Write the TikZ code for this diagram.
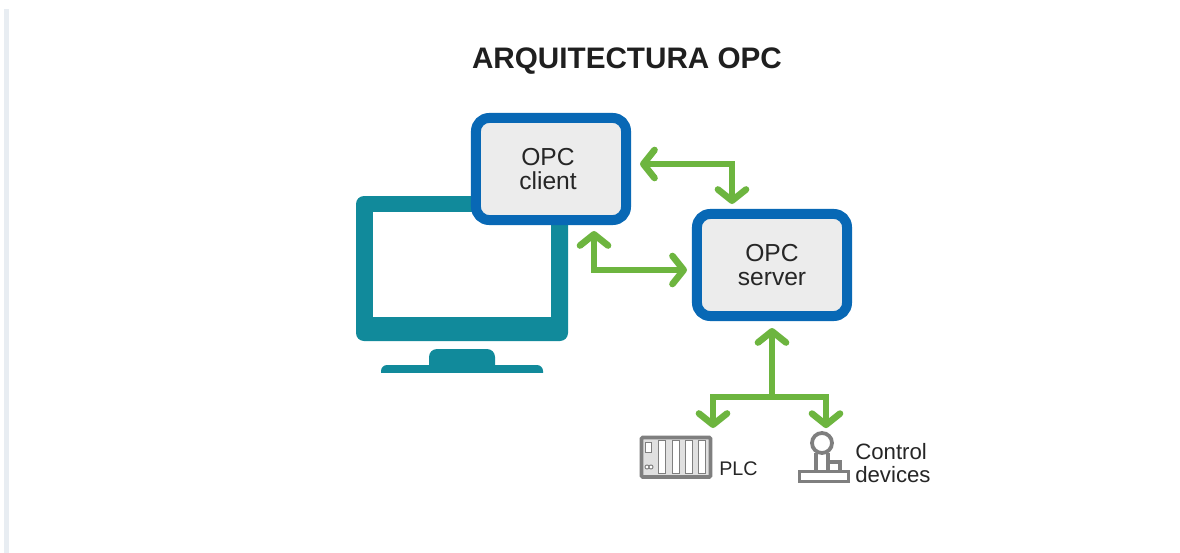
\documentclass[tikz,border=0pt]{standalone}
\usepackage{fontspec}
\setmainfont{Liberation Sans}
\usetikzlibrary{arrows.meta}
\definecolor{monitorteal}{HTML}{118A9B}
\definecolor{boxblue}{HTML}{0868B5}
\definecolor{boxgray}{HTML}{ECECEC}
\definecolor{linkgreen}{HTML}{6DB53F}
\definecolor{iconline}{HTML}{7F7F7F}
\definecolor{sidebar}{HTML}{E8EDF2}
\tikzset{
  opcbox/.style={draw=boxblue, fill=boxgray, line width=7.1pt, rounded corners=0.33cm,
    minimum width=3.75cm, minimum height=2.55cm, align=center, text=black!85,
    font=\fontsize{17.5}{17}\selectfont},
  link/.style={draw=linkgreen, line width=4.7pt,
    arrows={Straight Barb[length=0.28cm, width=0.7cm, round]-Straight Barb[length=0.28cm, width=0.7cm, round]}},
  drop/.style={draw=linkgreen, line width=4.7pt,
    arrows={-Straight Barb[length=0.28cm, width=0.7cm, round]}},
  iconpart/.style={draw=iconline, line width=2.7pt},
  plcslot/.style={draw=iconline, fill=white, line width=0.7pt},
  smalllabel/.style={text=black!85, align=left, inner sep=0pt, font=\fontsize{15.8}{15.8}\selectfont}
}

\begin{document}
\begin{tikzpicture}[x=0.025cm, y=-0.025cm]
  \useasboundingbox (0,0) rectangle (1180,553);
  \filldraw[fill=white, draw=none] (0,0) rectangle (1180,553);
  \filldraw[fill=sidebar, draw=none] (4,9) rectangle (9,553);
  \node[inner sep=0pt, text=black!88, font=\fontsize{21.1}{24}\selectfont\bfseries] (title) at (627,61) {ARQUITECTURA OPC};

  \filldraw[fill=monitorteal, draw=none, rounded corners=0.2cm] (356,196) rectangle (568,341);
  \filldraw[fill=white, draw=none] (373,212) rectangle (551,317);
  \filldraw[fill=monitorteal, draw=none, rounded corners=0.2cm] (429,373) -- (429,349) -- (495,349) -- (495,373) -- cycle;
  \filldraw[fill=monitorteal, draw=none, rounded corners=0.15cm] (381,380) -- (381,365) -- (543,365) -- (543,380) -- cycle;
  \filldraw[fill=white, draw=none] (370,373) rectangle (555,385);

  \node[opcbox] (client) at (551,169) {OPC\hspace*{0.15cm}\\client\hspace*{0.15cm}};
  \node[opcbox] (server) at (772,265) {OPC\\server};

  \filldraw[iconpart, fill=black!12, rounded corners=0.03cm] (641.5,437.5) rectangle (710.5,477);
  \filldraw[plcslot] (658,440) rectangle (665,473);
  \filldraw[plcslot] (672,440) rectangle (679,473);
  \filldraw[plcslot] (685,440) rectangle (692,473);
  \filldraw[plcslot] (698,440) rectangle (705,473);
  \draw[plcslot] (645,442) rectangle (651,452);
  \draw[plcslot] (647,467) circle (2);
  \draw[plcslot] (651,467) circle (2);
  \coordinate (plc) at (713,436);
  \node[smalllabel, font=\fontsize{14}{15.8}\selectfont] (plclabel) at (738.5,469) {PLC};

  \draw[iconpart, fill=white] (799.5,471.5) rectangle (848.5,481.5);
  \draw[iconpart] (816,453) -- (816,471);
  \draw[iconpart] (828,453) -- (828,471);
  \draw[iconpart] (828,462) -- (840,462) -- (840,471);
  \node[circle, iconpart, fill=white, minimum size=0.5cm, inner sep=0pt] (stick) at (822,443) {};
  \node[smalllabel, anchor=west] (ctrllabel) at (855,463) {Control\\devices};

  \draw[link, shorten <=0.225cm, shorten >=0.125cm] ([yshift=0.125cm]client.east) -| ([xshift=-1cm]server.north);
  \draw[link, shorten <=0.15cm, shorten >=0.125cm] ([xshift=1.075cm]client.south) |- ([yshift=-0.125cm]server.west);

  \coordinate (branch) at (772,397);
  \draw[drop, shorten >=0.175cm] (branch) -- (server.south);
  \draw[drop, shorten >=0.2cm] (branch) -| (plc);
  \draw[drop, shorten >=0.075cm] (branch) -| ([xshift=0.1cm]stick.north);
\end{tikzpicture}
\end{document}
